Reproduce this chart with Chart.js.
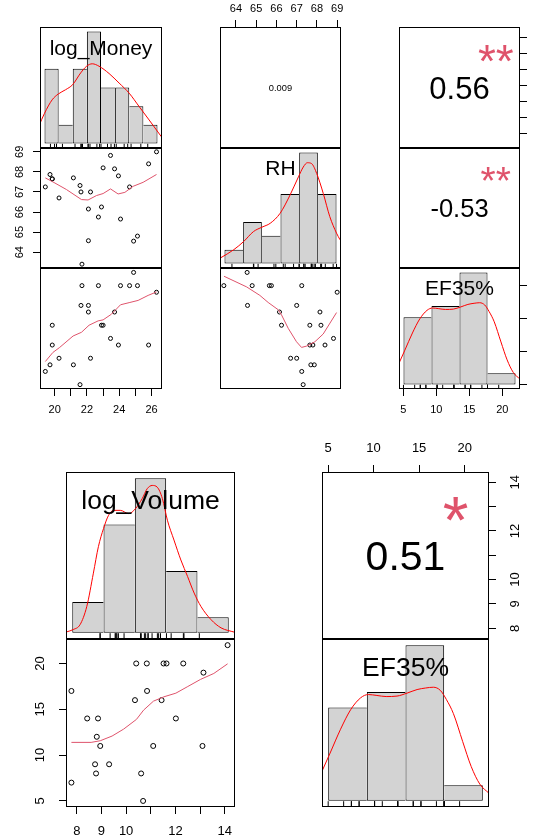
<!DOCTYPE html>
<html>
<head>
<meta charset="utf-8">
<title>chart.Correlation</title>
<script src="https://cdn.jsdelivr.net/npm/chart.js@4.4.1/dist/chart.umd.min.js"></script>
<style>
  html, body { margin: 0; padding: 0; background: #ffffff; }
  #page { position: relative; width: 536px; height: 837px; overflow: hidden; background: #ffffff; }
  #page canvas { position: absolute; }
</style>
</head>
<body>
<div id="page"></div>
<script>
// ==========================
// Data (24 samples)
// ==========================
const logMoney = [24.89, 21.69, 22.71, 24.08, 24.64, 25.13, 26.31, 21.63, 22.09, 22.09, 23.71, 19.85,
                  22.90, 23.00, 23.46, 19.85, 23.95, 25.82, 20.27, 22.22, 19.71, 21.16, 19.42, 21.57];
const rh = [64.55, 63.40, 65.75, 65.65, 67.25, 64.80, 69.00, 67.00, 64.57, 66.15, 68.15, 67.65,
            66.25, 68.20, 68.82, 67.65, 67.80, 68.40, 66.70, 67.00, 67.87, 67.70, 67.25, 67.32];
const ef35 = [22, 20, 20, 20, 20, 20, 19, 17, 17, 16, 16, 14, 14, 14, 12, 11, 11, 11, 9, 9, 8, 8, 7, 5];
const logVolume = [14.12, 10.41, 10.84, 11.52, 11.64, 12.32, 13.14, 7.78, 10.85, 10.36, 11.44, 8.42,
                   8.86, 12.02, 8.81, 8.95, 11.10, 13.10, 8.74, 9.31, 8.78, 10.61, 7.78, 10.69];

// histogram breaks and bar counts
const moneyBreaks = [19, 20, 21, 22, 23, 24, 25, 26, 27];
const moneyCounts = [4, 1, 4, 6, 3, 3, 2, 1];
const rhBreaks = [63, 64, 65, 66, 67, 68, 69];
const rhCounts = [1, 3, 2, 5, 8, 5];
const efBreaks = [5, 10, 15, 20, 25];
const efCounts = [6, 7, 10, 1];
const volumeBreaks = [6, 8, 10, 12, 14, 16];
const volumeCounts = [2, 7, 10, 4, 1];

// density curves, in the count units of the bars
const moneyDensX = [18.6, 19.0, 19.54, 19.97, 20.49, 20.99, 21.56, 21.98, 22.38, 22.86, 23.57, 24.28, 24.99, 25.7, 26.41, 27.28];
const moneyDensY = [0.94, 1.62, 2.34, 2.65, 2.88, 3.15, 3.78, 4.14, 4.27, 4.14, 3.75, 3.24, 2.7, 1.98, 1.26, 0.36];
const rhDensX = [62.79, 63.5, 64.03, 64.56, 65.01, 65.45, 65.98, 66.51, 66.96, 67.22, 67.44, 67.67, 67.94, 68.29, 68.64, 69.0, 69.19];
const rhDensY = [0.41, 1.0, 1.59, 2.31, 2.62, 2.9, 3.62, 4.93, 6.24, 6.95, 7.26, 7.19, 6.48, 5.05, 3.38, 2.19, 1.71];
const efDensX = [4.2, 5.25, 6.6, 7.9, 9.2, 10.2, 11.3, 12.5, 13.9, 15.2, 16.5, 17.6, 18.6, 19.5, 20.3, 21.2, 22.4, 23.5, 24.6, 25.8];
const efDensY = [1.9, 3.07, 4.6, 5.85, 6.62, 6.83, 6.77, 6.7, 6.73, 6.92, 7.15, 7.25, 7.3, 7.1, 6.5, 5.6, 3.8, 2.2, 1.08, 0.48];
const volumeDensX = [5.64, 6.06, 6.5, 6.93, 7.35, 7.67, 8.0, 8.32, 8.64, 9.07, 9.61, 10.04, 10.47, 10.79, 11.11, 11.43,
                     11.76, 12.08, 12.5, 12.94, 13.37, 13.79, 14.22, 14.87, 15.51, 16.37];
const volumeDensY = [0.06, 0.21, 0.53, 1.71, 3.86, 5.57, 6.75, 7.6, 7.92, 7.92, 7.71, 8.03, 8.68, 9.32, 9.53, 9.42,
                     8.68, 7.28, 6.0, 4.71, 3.64, 2.57, 1.71, 0.85, 0.32, 0.04];

// smoother lines in the scatter panels
const smMoneyRhX = [19.42, 19.89, 20.73, 21.66, 22.07, 22.59, 23.0, 23.46, 23.93, 24.35, 24.86, 25.48, 26.31];
const smMoneyRhY = [67.7, 67.5, 67.12, 66.62, 66.6, 66.82, 66.92, 67.15, 66.9, 66.98, 67.28, 67.48, 67.87];
const smMoneyEfX = [19.42, 19.89, 20.31, 21.14, 21.66, 22.13, 22.69, 23.0, 23.52, 24.08, 24.66, 25.17, 25.79, 26.31];
const smMoneyEfY = [8.5, 9.88, 10.64, 12.37, 12.93, 14.0, 14.66, 14.81, 15.68, 17.1, 17.45, 17.76, 18.52, 19.04];
const smRhEfX = [63.41, 64.53, 65.18, 65.59, 66.09, 66.25, 66.58, 66.99, 67.24, 67.49, 67.9, 68.31, 68.97];
const smRhEfY = [21.42, 19.8, 18.52, 17.45, 16.34, 15.57, 13.54, 11.5, 10.64, 10.84, 11.5, 12.67, 15.92];
const smVolumeEfX = [7.78, 8.58, 8.95, 9.43, 9.9, 10.42, 10.71, 11.11, 11.53, 12.02, 12.48, 13.02, 13.56, 14.12];
const smVolumeEfY = [11.39, 11.39, 11.57, 12.08, 12.84, 13.9, 14.91, 15.89, 16.36, 16.76, 17.45, 18.26, 18.91, 19.96];

// axis ticks and which of them carry a label
const moneyTicks = [20, 21, 22, 23, 24, 25, 26];
const moneyLabels = [20, 22, 24, 26];
const rhTicks = [64, 65, 66, 67, 68, 69];
const efTicks = [5, 10, 15, 20];
const volumeTicks = [8, 9, 10, 11, 12, 13, 14];
const volumeLabels = [8, 9, 10, 12, 14];

// correlation text and stars
const corrMoneyRh = '0.009';
const corrMoneyEf = '0.56', starsMoneyEf = '**';
const corrRhEf = '-0.53', starsRhEf = '**';
const corrVolumeEf = '0.51', starsVolumeEf = '*';

// ==========================
// Layout
// ==========================
const moneyLim = [19.09, 26.65];
const rhLim = [63.21, 69.19];
const efLim = [4.34, 22.67];
const volumeLim = [7.56, 14.42];

const topCols = [[40, 122], [220, 121], [399, 121]];
const topRows = [[27, 121], [148, 120], [268, 121]];
const botCols = [[66, 169], [322, 167]];
const botRows = [[472, 167], [639, 168]];

const FONT = '"Liberation Sans", Arial, Helvetica, sans-serif';
const INK = '#000000';
const PINK = '#DF536B';
const RED = '#FF0000';
const GREY = '#D3D3D3';

const page = document.getElementById('page');

function cell(cols, rows, r, c) {
  return { x: cols[c][0], w: cols[c][1], y: rows[r][0], h: rows[r][1] };
}

function expand(lo, hi) {
  const d = (hi - lo) * 0.04;
  return [lo - d, hi + d];
}

function pairs(xs, ys) {
  return xs.map((x, i) => ({ x: x, y: ys[i] }));
}

function axisScale(pos, lim, ticks, labels, pad, size) {
  const horiz = pos === 'top' || pos === 'bottom';
  return {
    type: 'linear', position: pos, min: lim[0], max: lim[1], offset: false,
    afterBuildTicks: s => { s.ticks = ticks.map(v => ({ value: v })); },
    grid: { display: true, drawOnChartArea: false, drawTicks: true, tickLength: 7, tickWidth: 1, tickColor: INK, offset: false },
    border: { display: false },
    ticks: {
      display: labels.length > 0, autoSkip: false, padding: pad, color: INK,
      font: { family: FONT, size: size },
      minRotation: horiz ? 0 : 90, maxRotation: horiz ? 0 : 90,
      crossAlign: horiz ? 'near' : 'center',
      callback: v => labels.indexOf(v) >= 0 ? String(v) : ''
    }
  };
}

function hiddenScale(axis, lim, ticks) {
  const s = { type: 'linear', axis: axis, display: false, min: lim[0], max: lim[1], offset: false, grid: { offset: false } };
  if (ticks) s.afterBuildTicks = sc => { sc.ticks = ticks.map(v => ({ value: v })); };
  return s;
}

// panel box + centred texts
function decor(texts) {
  return {
    id: 'panelDecor',
    afterDraw(chart) {
      const ctx = chart.ctx, a = chart.chartArea;
      ctx.save();
      ctx.strokeStyle = INK;
      ctx.lineWidth = 1;
      ctx.strokeRect(a.left + 0.5, a.top + 0.5, a.width - 1, a.height - 1);
      texts.forEach(t => {
        ctx.font = t.size + 'px ' + FONT;
        ctx.fillStyle = t.color || INK;
        ctx.textAlign = 'center';
        ctx.textBaseline = 'alphabetic';
        const m = ctx.measureText(t.text);
        const x = a.left + t.u * a.width;
        const y = a.bottom - t.v * a.height;
        const shift = t.ink ? (m.actualBoundingBoxAscent - m.actualBoundingBoxDescent) / 2 : m.actualBoundingBoxAscent / 2;
        ctx.fillText(t.text, x, y + shift);
      });
      ctx.restore();
    }
  };
}

function makeChart(rect, margin, type, datasets, scales, texts) {
  const m = Object.assign({ top: 3, right: 3, bottom: 3, left: 3 }, margin);
  const cv = document.createElement('canvas');
  cv.width = rect.w + m.left + m.right;
  cv.height = rect.h + m.top + m.bottom;
  cv.style.left = (rect.x - m.left) + 'px';
  cv.style.top = (rect.y - m.top) + 'px';
  page.appendChild(cv);

  const padding = { top: m.top, right: m.right, bottom: m.bottom, left: m.left };
  Object.values(scales).forEach(s => {
    if (s.display === false) return;
    const side = s.position;
    padding[side] = 0;
    s.afterFit = sc => {
      if (side === 'top' || side === 'bottom') sc.height = m[side]; else sc.width = m[side];
      sc.paddingTop = sc.paddingBottom = sc.paddingLeft = sc.paddingRight = 0;
    };
  });

  return new Chart(cv, {
    type: type,
    data: { datasets: datasets },
    options: {
      responsive: false, maintainAspectRatio: false, animation: false, devicePixelRatio: 1,
      events: [],
      layout: { autoPadding: false, padding: padding },
      plugins: { legend: { display: false }, tooltip: { enabled: false } },
      scales: scales
    },
    plugins: [decor(texts || [])]
  });
}

function lineSet(xs, ys, color, extra) {
  return Object.assign({
    type: 'line', data: pairs(xs, ys), borderColor: color, borderWidth: 1,
    pointRadius: 0, fill: false, tension: 0, order: 0
  }, extra || {});
}

function dotSet(xs, ys, r) {
  return {
    type: 'scatter', data: pairs(xs, ys), pointStyle: 'circle', pointRadius: r,
    pointBorderWidth: 1, pointBorderColor: INK, pointBackgroundColor: 'rgba(0,0,0,0)', order: 1
  };
}

function scatterPanel(rect, margin, xs, ys, smX, smY, r, scales) {
  return makeChart(rect, margin, 'scatter', [lineSet(smX, smY, PINK), dotSet(xs, ys, r)], scales, []);
}

function histPanel(rect, margin, values, breaks, counts, densX, densY, rugLen, axes, texts) {
  const hLim = expand(breaks[0], breaks[breaks.length - 1]);
  const cLim = expand(0, Math.max(...counts));
  const n = counts.length;
  const bars = counts.map((c, i) => ({ x: (breaks[i] + breaks[i + 1]) / 2, y: c }));
  const datasets = [
    lineSet(densX, densY, RED, { xAxisID: 'xh', yAxisID: 'yh', cubicInterpolationMode: 'monotone' }),
    {
      type: 'scatter', data: values.map(v => ({ x: v, y: cLim[0] })), xAxisID: 'xh', yAxisID: 'yh',
      pointStyle: 'line', pointRotation: 90, pointRadius: rugLen, pointBorderColor: INK,
      pointBorderWidth: 1, clip: 0, order: 1
    },
    {
      type: 'bar', data: bars, xAxisID: 'xh', yAxisID: 'yh', backgroundColor: GREY, borderColor: INK,
      borderSkipped: false, barPercentage: 1, categoryPercentage: 1, inflateAmount: 0, order: 2,
      borderWidth: c => {
        const i = c.dataIndex;
        if (i === undefined) return 1;
        return {
          top: 1, bottom: 1,
          left: (i === 0 || counts[i] >= counts[i - 1]) ? 1 : 0,
          right: (i === n - 1 || counts[i] > counts[i + 1]) ? 1 : 0
        };
      }
    }
  ];
  const scales = Object.assign({ xh: hiddenScale('x', hLim, breaks), yh: hiddenScale('y', cLim) }, axes || {});
  return makeChart(rect, margin, 'bar', datasets, scales, texts);
}

function textPanel(rect, margin, scales, texts) {
  return makeChart(rect, margin, 'scatter', [], scales, texts);
}

// ==========================
// Upper matrix: log_Money, RH, EF35%
// ==========================
const TOP_FONT = 11;

histPanel(cell(topCols, topRows, 0, 0), {}, logMoney, moneyBreaks, moneyCounts, moneyDensX, moneyDensY, 4.2, null,
  [{ text: 'log_Money', u: 0.5, v: 0.833, size: 21 }]);

textPanel(cell(topCols, topRows, 0, 1), { top: 27, left: 8, right: 8 }, {
  x: axisScale('top', rhLim, rhTicks, rhTicks, 4.4, TOP_FONT),
  y: hiddenScale('y', [0, 1])
}, [{ text: corrMoneyRh, u: 0.5, v: 0.5, size: 9.3 }]);

textPanel(cell(topCols, topRows, 0, 2), { right: 16 }, {
  x: hiddenScale('x', [0, 1]),
  y: axisScale('right', moneyLim, moneyTicks, [], 0, TOP_FONT)
}, [
  { text: corrMoneyEf, u: 0.5, v: 0.5, size: 31 },
  { text: starsMoneyEf, u: 0.8, v: 0.78, size: 46, color: PINK, ink: true }
]);

scatterPanel(cell(topCols, topRows, 1, 0), { left: 32 }, logMoney, rh, smMoneyRhX, smMoneyRhY, 2, {
  x: hiddenScale('x', moneyLim),
  y: axisScale('left', rhLim, rhTicks, rhTicks, 6.9, TOP_FONT)
});

histPanel(cell(topCols, topRows, 1, 1), {}, rh, rhBreaks, rhCounts, rhDensX, rhDensY, 4.2, null,
  [{ text: 'RH', u: 0.5, v: 0.833, size: 21 }]);

textPanel(cell(topCols, topRows, 1, 2), {}, {
  x: hiddenScale('x', [0, 1]),
  y: hiddenScale('y', [0, 1])
}, [
  { text: corrRhEf, u: 0.5, v: 0.5, size: 25.5 },
  { text: starsRhEf, u: 0.8, v: 0.78, size: 39, color: PINK, ink: true }
]);

scatterPanel(cell(topCols, topRows, 2, 0), { bottom: 30 }, logMoney, ef35, smMoneyEfX, smMoneyEfY, 2, {
  x: axisScale('bottom', moneyLim, moneyTicks, moneyLabels, 7.4, TOP_FONT),
  y: hiddenScale('y', efLim)
});

scatterPanel(cell(topCols, topRows, 2, 1), {}, rh, ef35, smRhEfX, smRhEfY, 2, {
  x: hiddenScale('x', rhLim),
  y: hiddenScale('y', efLim)
});

histPanel(cell(topCols, topRows, 2, 2), { bottom: 30, right: 16 }, ef35, efBreaks, efCounts, efDensX, efDensY, 4.2, {
  x: axisScale('bottom', efLim, efTicks, efTicks, 7.4, TOP_FONT),
  y: axisScale('right', efLim, efTicks, [], 0, TOP_FONT)
}, [{ text: 'EF35%', u: 0.5, v: 0.833, size: 21 }]);

// ==========================
// Lower matrix: log_Volume, EF35%
// ==========================
const BOT_FONT = 13;

histPanel(cell(botCols, botRows, 0, 0), {}, logVolume, volumeBreaks, volumeCounts, volumeDensX, volumeDensY, 5.8, null,
  [{ text: 'log_Volume', u: 0.5, v: 0.833, size: 26.5 }]);

textPanel(cell(botCols, botRows, 0, 1), { top: 32, right: 47 }, {
  x: axisScale('top', efLim, efTicks, efTicks, 8.9, BOT_FONT),
  y: axisScale('right', volumeLim, volumeTicks, volumeLabels, 11.8, BOT_FONT)
}, [
  { text: corrVolumeEf, u: 0.5, v: 0.5, size: 41 },
  { text: starsVolumeEf, u: 0.8, v: 0.78, size: 66, color: PINK, ink: true }
]);

scatterPanel(cell(botCols, botRows, 1, 0), { left: 41, bottom: 30 }, logVolume, ef35, smVolumeEfX, smVolumeEfY, 2.5, {
  x: axisScale('bottom', volumeLim, volumeTicks, volumeLabels, 9.2, BOT_FONT),
  y: axisScale('left', efLim, efTicks, efTicks, 11.1, BOT_FONT)
});

histPanel(cell(botCols, botRows, 1, 1), {}, ef35, efBreaks, efCounts, efDensX, efDensY, 5.8, null,
  [{ text: 'EF35%', u: 0.5, v: 0.833, size: 26.5 }]);
</script>
</body>
</html>
